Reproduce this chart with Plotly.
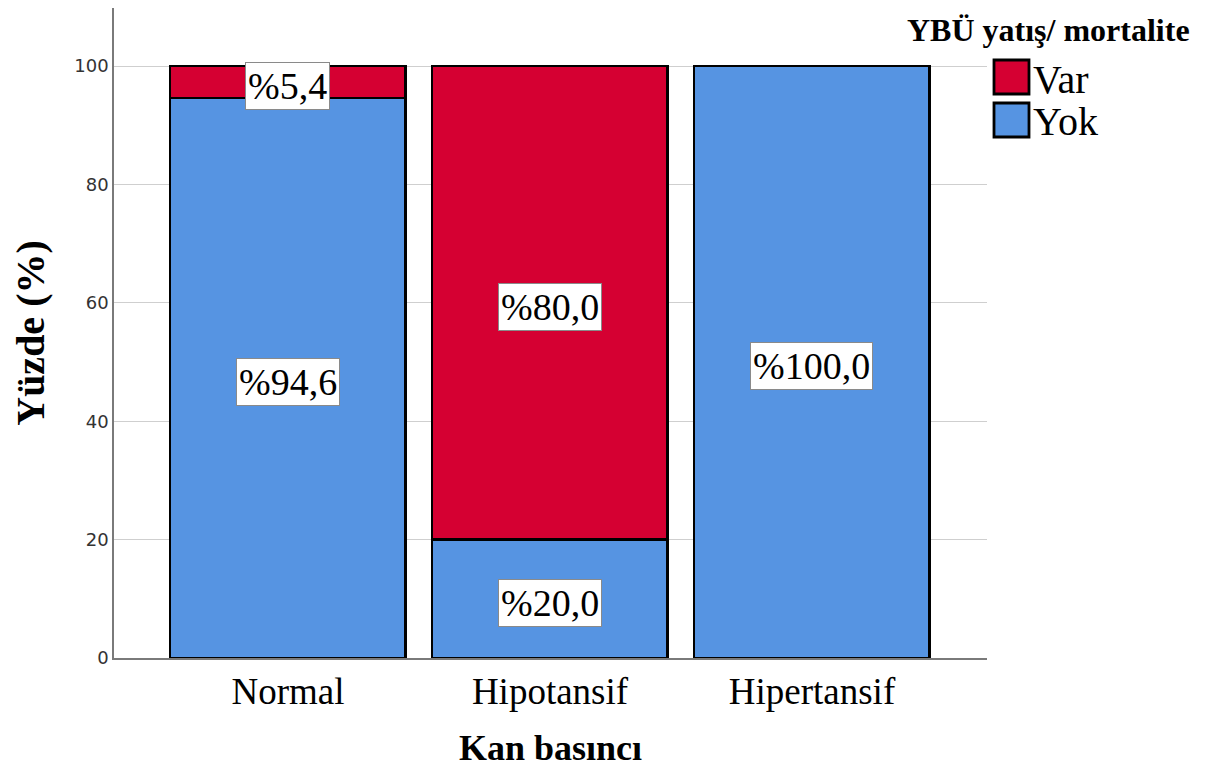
import plotly.graph_objects as go

categories = ["Normal", "Hipotansif", "Hipertansif"]
yok_values = [94.6, 20.0, 100.0]
var_values = [5.4, 80.0, 0.0]
series_names = ["Var", "Yok"]
y_ticks = [0, 20, 40, 60, 80, 100]

RED = "#D50032"
BLUE = "#5694E2"
SERIF = "Liberation Serif, Times New Roman, serif"

fig = go.Figure()
fig.add_trace(go.Bar(x=categories, y=yok_values, name="Yok", marker=dict(color=BLUE, line=dict(color="black", width=2.8)), showlegend=False))
fig.add_trace(go.Bar(x=categories, y=var_values, name="Var", marker=dict(color=RED, line=dict(color="black", width=2.8)), showlegend=False))

def fmt(v):
    return "%" + f"{v:.1f}".replace(".", ",")

LABEL_FONT = dict(family=SERIF, size=38, color="black")
for i, c in enumerate(categories):
    if yok_values[i] > 0:
        fig.add_annotation(x=c, y=yok_values[i] / 2, text=fmt(yok_values[i]), showarrow=False, yshift=-4,
                           font=LABEL_FONT, bgcolor="white", bordercolor="#8a8a8a", borderwidth=1, borderpad=2)
    if var_values[i] > 0:
        fig.add_annotation(x=c, y=yok_values[i] + var_values[i] / 2, text=fmt(var_values[i]), showarrow=False, yshift=-4,
                           font=LABEL_FONT, bgcolor="white", bordercolor="#8a8a8a", borderwidth=1, borderpad=2)

# Page body has an 8px margin; figure coordinates = screen coordinates - 8
W, H = 1210, 760
OFF = 8
L, R, T, B = 114 - OFF, 231, 0, 110
pw, ph = W - L - R, H - T - B
def px(x):
    return (x - OFF - L) / pw
def py(y):
    return (H - B - (y - OFF)) / ph

fig.add_annotation(xref="paper", yref="paper", x=px(1048), y=py(30), text="<b>YBÜ yatış/ mortalite</b>",
                   showarrow=False, xanchor="center", yanchor="middle",
                   font=dict(family=SERIF, size=32, color="black"))
legend_colors = {"Var": RED, "Yok": BLUE}
for name, yc in zip(series_names, [77, 120]):
    fig.add_shape(type="rect", xref="paper", yref="paper", x0=px(994), x1=px(1029), y0=py(yc - 17), y1=py(yc + 17),
                  fillcolor=legend_colors[name], line=dict(color="black", width=2.8))
    fig.add_annotation(xref="paper", yref="paper", x=px(1031), y=py(yc + 2), text=name, showarrow=False,
                       xanchor="left", yanchor="middle", font=dict(family=SERIF, size=40, color="black"))

fig.update_layout(
    width=W, height=H,
    margin=dict(l=L, r=R, t=T, b=B),
    barmode="stack", bargap=0.1,
    plot_bgcolor="white", paper_bgcolor="white",
    showlegend=False,
    xaxis=dict(range=[-0.664, 2.668], showline=True, linecolor="#7a7a7a", linewidth=1.5, ticks="",
               tickfont=dict(family=SERIF, size=37, color="black"),
               title=dict(text="<b>Kan basıncı</b>", font=dict(family=SERIF, size=36, color="black"), standoff=26)),
    yaxis=dict(range=[0, 109.8], tickvals=y_ticks, showline=True, linecolor="#7a7a7a", linewidth=1.5,
               showgrid=True, gridcolor="#cfcfcf", gridwidth=1, ticks="", zeroline=False,
               tickfont=dict(family="DejaVu Sans, Verdana, sans-serif", size=18, color="#333333"),
               title=dict(text="<b>Yüzde (%)</b>", font=dict(family=SERIF, size=40, color="black"), standoff=20)),
)

fig.write_html("out.html")
